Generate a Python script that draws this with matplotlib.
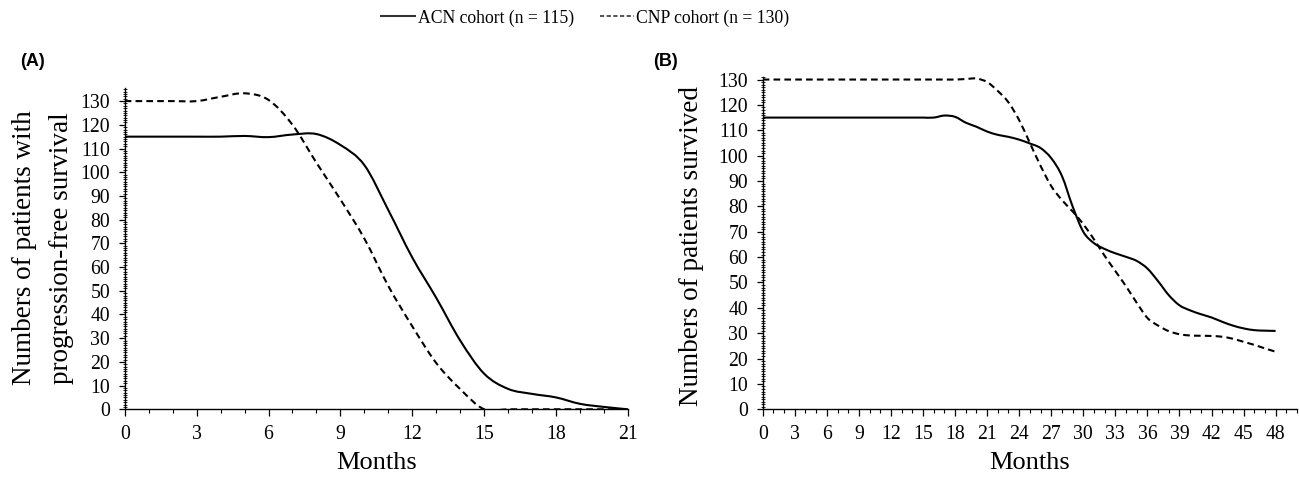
import matplotlib
matplotlib.use("Agg")
import matplotlib.pyplot as plt
from matplotlib.ticker import MultipleLocator
from matplotlib.lines import Line2D
from matplotlib.path import Path
from matplotlib.patches import PathPatch

# ---------------- data ----------------
months_a = list(range(0, 22))
acn_pfs = [115, 115, 115, 115, 115, 115.3, 114.8, 115.9, 116.1, 111.5, 103, 84, 64,
           47, 29, 15, 8.6, 6.5, 5, 2.3, 1.0, 0]
cnp_pfs = [130, 130, 130, 130, 131.8, 133.3, 130.5, 120, 104, 88.5, 72, 52, 35,
           19.5, 8.5, 0, 0, 0, 0, 0, 0, 0]

months_b = list(range(0, 49))
acn_os = [115] * 17 + [115.8, 115.3, 113, 111.4, 109.5, 108.2, 107.4, 106.3, 104.8,
                       103, 99, 92, 80, 70, 65.5, 63.2, 61.5, 60.1, 58.5, 55.5, 50.5,
                       45, 41, 39, 37.5, 36.2, 34.5, 33, 31.9, 31.2, 31, 30.9]
cnp_os = [130] * 19 + [130.2, 130.4, 129, 125.5, 121, 114, 105, 96, 88, 82.5, 78, 73,
                       67, 60.5, 54.5, 48.5, 42, 36, 33, 30.8, 29.6, 29.1, 29, 28.9,
                       28.6, 27.8, 26.6, 25.4, 24, 22.7]

labels = ["ACN cohort (n = 115)", "CNP cohort (n = 130)"]
xlabel = "Months"
ylabel_a = "Numbers of patients with\nprogression-free survival"
ylabel_b = "Numbers of patients survived"

# ---------------- figure ----------------
W, H = 1299, 483
fig = plt.figure(figsize=(W / 100, H / 100), dpi=100)
serif = "Liberation Serif"
dash = (0, (3.2, 2.0))


def px_axes(left, top, right, bottom):
    return fig.add_axes([left / W, 1 - bottom / H, (right - left) / W, (bottom - top) / H])


def smooth_line(ax, xs, ys, **kw):
    """Draw a smoothed (Excel-style) line through the data points using
    cubic Bezier segments in data coordinates."""
    n = len(xs)
    verts = [(xs[0], ys[0])]
    codes = [Path.MOVETO]
    for i in range(n - 1):
        x0, y0 = xs[max(i - 1, 0)], ys[max(i - 1, 0)]
        x1, y1 = xs[i], ys[i]
        x2, y2 = xs[i + 1], ys[i + 1]
        x3, y3 = xs[min(i + 2, n - 1)], ys[min(i + 2, n - 1)]
        c1 = (x1 + (x2 - x0) / 6.0, y1 + (y2 - y0) / 6.0)
        c2 = (x2 - (x3 - x1) / 6.0, y2 - (y3 - y1) / 6.0)
        verts += [c1, c2, (x2, y2)]
        codes += [Path.CURVE4] * 3
    patch = PathPatch(Path(verts, codes), fill=False, transform=ax.transData,
                      capstyle="butt", joinstyle="round", **kw)
    ax.add_patch(patch)


def style(ax, xmax, ymax):
    ax.set_xlim(0, xmax)
    ax.set_ylim(0, ymax)
    for s in ("top", "right"):
        ax.spines[s].set_visible(False)
    for s in ("left", "bottom"):
        ax.spines[s].set_linewidth(1.0)
        ax.spines[s].set_color("black")
    ax.xaxis.set_major_locator(MultipleLocator(3))
    ax.xaxis.set_minor_locator(MultipleLocator(1))
    ax.yaxis.set_major_locator(MultipleLocator(10))
    ax.yaxis.set_minor_locator(MultipleLocator(1))
    ax.tick_params(axis="y", which="major", direction="out", length=4.5, width=0.9,
                   pad=6, labelsize=14.2)
    ax.tick_params(axis="y", which="minor", direction="inout", length=3.5, width=0.6)
    ax.tick_params(axis="x", which="major", direction="out", length=5, width=0.9,
                   pad=6, labelsize=14.2)
    ax.tick_params(axis="x", which="minor", direction="out", length=3, width=0.8)
    for lab in ax.get_xticklabels() + ax.get_yticklabels():
        lab.set_fontfamily(serif)
    ax.set_xlabel(xlabel, fontsize=19, fontfamily=serif, labelpad=6)


# Panel A
axA = px_axes(124.7, 88.3, 628, 409.3)
smooth_line(axA, months_a, acn_pfs, edgecolor="black", lw=1.5)
smooth_line(axA, months_a, cnp_pfs, edgecolor="black", lw=1.5, linestyle=dash)
style(axA, 21, 135.4)
axA.set_xticks(range(0, 22, 3))

# Panel B
axB = px_axes(762.7, 77, 1297, 409.3)
smooth_line(axB, months_b, acn_os, edgecolor="black", lw=1.5)
smooth_line(axB, months_b, cnp_os, edgecolor="black", lw=1.5, linestyle=dash)
style(axB, 50, 131)
axB.set_xticks(range(0, 49, 3))

# y labels
fig.text(43 / W, 1 - 248 / H, ylabel_a, rotation=90, ha="center", va="center",
         fontsize=19.5, fontfamily=serif, linespacing=1.6)
fig.text(692 / W, 1 - 246 / H, ylabel_b, rotation=90, ha="center", va="center",
         fontsize=19.5, fontfamily=serif)

# panel letters
fig.text(20 / W, 1 - 62 / H, "(A)", ha="left", va="center", fontsize=13,
         fontweight="bold", fontfamily="Liberation Sans")
fig.text(653 / W, 1 - 62 / H, "(B)", ha="left", va="center", fontsize=13,
         fontweight="bold", fontfamily="Liberation Sans")

# legend
handles = [Line2D([], [], color="#333333", lw=1.5),
           Line2D([], [], color="#333333", lw=1.2, linestyle=(0, (2.5, 1.5)))]
fig.legend(handles, labels, loc="center", bbox_to_anchor=(585.5 / W, 1 - 18 / H), ncol=2,
           frameon=False, prop={"family": serif, "size": 12.7}, handlelength=1.9,
           handletextpad=0.15, columnspacing=1.5, borderpad=0)

fig.savefig("out.png", dpi=100)
